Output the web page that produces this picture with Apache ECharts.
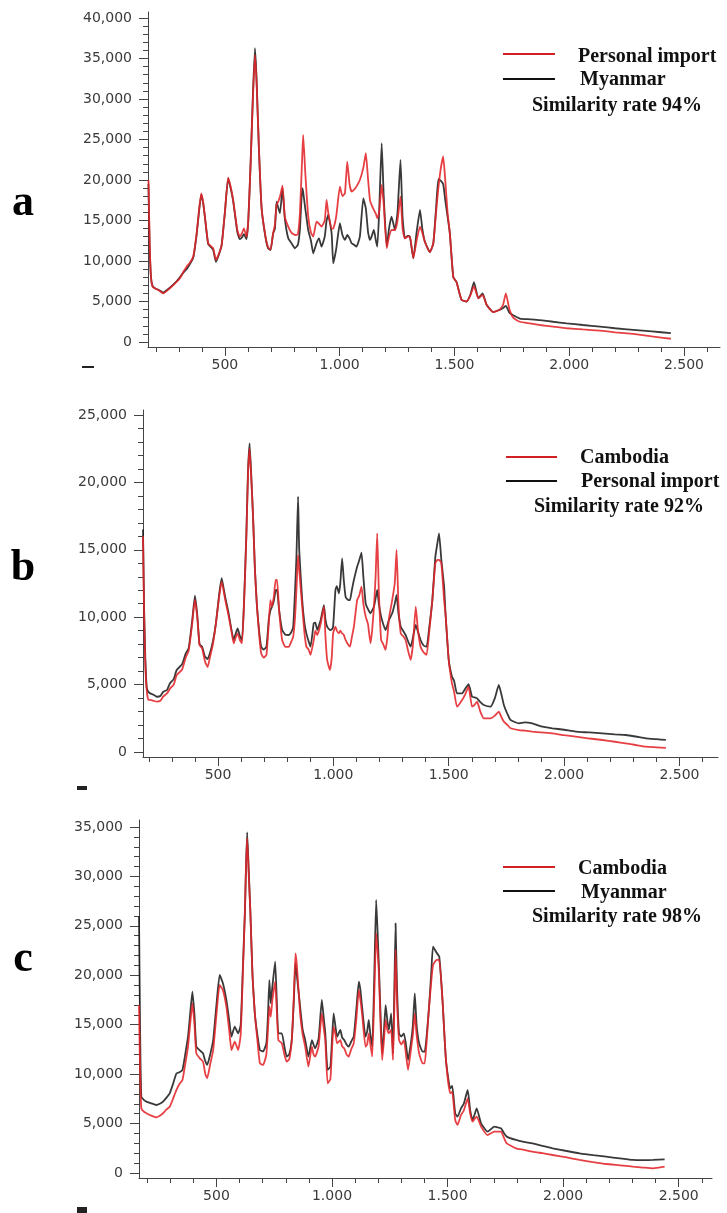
<!DOCTYPE html>
<html><head><meta charset="utf-8">
<script src="https://cdn.jsdelivr.net/npm/echarts@6/dist/echarts.min.js"></script>
<style>html,body{margin:0;padding:0;background:#fff}#c{width:727px;height:1213px}</style>
</head><body><div id="c"></div>
<script>
// ---------- Panel a : Personal import (red) vs Myanmar (black) ----------
const xA = [
167,172,178,185,197,210,231,260,285,304,
320,333,345,362,377,388,397,405,413,427,
440,449,461,474,486,500,514,525,536,554,
565,574,583,594,602,612,622,631,638,648,
660,677,688,699,710,718,725,732,740,751,
761,776,790,805,818,827,837,841,850,863,
875,885,899,910,921,935,943,950,965,972,
985,1001,1012,1023,1033,1043,1052,1063,1073,1088,
1103,1114,1124,1132,1139,1149,1158,1164,1172,1183,
1192,1205,1215,1226,1241,1252,1265,1274,1284,1296,
1306,1321,1335,1350,1360,1371,1393,1408,1420,1430,
1441,1451,1460,1470,1480,1495,1509,1531,1553,1570,
1585,1604,1613,1623,1640,1669,1698,1712,1724,1740,
1756,1785,1830,1872,1930,1989,2060,2134,2200,2279,
2360,2443];
const personalA = [
20000,12500,8000,6830,6600,6420,6010,6630,7300,7870,
8700,9300,9700,10530,13420,16500,18360,17300,15480,12190,
11800,11570,10130,10900,11980,16000,20300,19200,17540,13830,
13010,13400,14040,13010,15000,22000,30000,35440,32000,24000,
16500,13000,11700,11400,13420,14500,16920,17300,17950,19300,
15480,14240,13500,13210,13300,16000,23000,25560,21000,15480,
13500,13010,14860,14600,14240,15000,17540,16000,14000,14000,
15500,19180,18000,18360,22270,19500,18560,18800,19180,20000,
21500,23300,20000,17500,16920,16300,15800,15270,16000,19400,
17000,11570,13000,13830,13830,15000,17950,14000,12800,13000,
13010,10330,12500,14240,13500,12400,11100,12190,16000,19000,
21500,22900,20000,16000,13420,8000,7400,5200,5000,5800,
6900,5400,5600,5800,4600,3700,4000,4600,6000,4000,
3000,2500,2300,2100,1900,1700,1550,1400,1200,1000,
700,400];
const myanmarA = [
19500,12000,8000,6900,6600,6450,6100,6700,7350,8000,
8600,9000,9500,10400,13300,16300,18200,17200,15400,12100,
11700,11400,9900,10800,12000,16000,20200,19000,17400,13600,
12700,12900,13300,12700,15000,22000,30500,36270,32500,24000,
16500,12900,11600,11360,13400,14000,17330,16600,15890,19000,
15270,12800,12200,11570,12000,14000,18980,18500,16500,13830,
12500,10950,12190,12800,11770,13000,15000,15680,13420,9720,
11500,14660,13200,12600,13210,12800,12190,12000,11770,13000,
17740,16500,13500,12600,13000,13830,12500,11770,16000,24540,
18000,11770,14000,15480,13830,16000,22480,15500,12800,13100,
13010,10330,13500,16300,14000,12400,11100,12190,16500,20100,
19900,19500,17500,15500,13420,8000,7400,5200,5000,5900,
7400,5400,5700,6000,4600,3700,4000,4200,4450,3600,
3300,2900,2800,2700,2500,2300,2100,1900,1700,1500,
1300,1100];

// ---------- Panel b : Cambodia (red) vs Personal import (black) ----------
const xB = [
175,180,185,191,198,206,220,235,250,263,
279,292,308,321,344,360,373,388,400,410,
420,431,444,455,465,478,491,505,516,530,
546,558,568,577,585,595,604,613,623,630,
637,645,652,660,669,678,687,698,710,720,
727,734,742,750,756,765,778,792,807,818,
826,834,840,847,852,865,875,883,893,901,
915,922,930,945,959,966,973,985,993,999,
1009,1015,1024,1030,1038,1045,1053,1063,1072,1080,
1089,1103,1112,1122,1130,1140,1150,1161,1168,1176,
1183,1190,1197,1207,1216,1226,1234,1241,1255,1266,
1274,1282,1292,1302,1313,1324,1335,1345,1357,1367,
1378,1391,1404,1416,1429,1442,1451,1458,1468,1480,
1486,1500,1514,1523,1536,1558,1572,1586,1601,1612,
1623,1637,1652,1681,1700,1717,1728,1739,1755,1768,
1804,1830,1862,1900,1949,2000,2050,2110,2166,2220,
2267,2310,2354,2400,2441];
const cambodiaB = [
16000,10000,6500,4600,3860,3860,3800,3730,3800,4120,
4350,4700,5000,5710,6100,7000,7500,9500,11300,10000,
7930,7700,6700,6300,7000,8000,9540,11500,12640,11400,
10100,9000,8060,8500,8800,8300,8060,11000,16000,20500,
22530,20000,17460,13500,10780,8800,7320,7000,7200,9500,
11270,10800,11500,12760,12760,10500,8310,7800,7810,8200,
8560,10000,12020,14620,13500,10780,8800,7810,7600,7200,
8310,9000,8680,9500,10780,8500,6830,6080,7000,8800,
9300,9000,8800,9000,8800,8700,8310,8000,7810,8500,
9300,11270,11600,12270,11000,10040,9500,8060,9000,10780,
13000,16220,12000,8310,8000,7570,8500,9920,11270,12500,
14990,11000,8800,8600,8310,7500,6830,8000,10780,9000,
7810,7400,7200,9000,11270,14000,14250,14250,14000,11270,
10290,6830,5090,4500,3360,3860,4300,4850,3360,3500,
3730,3000,2500,2500,2700,2990,2600,2250,2000,1760,
1630,1580,1510,1450,1380,1250,1140,1000,890,760,
640,520,400,350,300];
const personalB = [
16500,10500,7000,4800,4470,4350,4250,4100,4150,4470,
4600,5100,5400,6080,6500,7300,7700,9700,11600,10200,
8000,7810,7070,6900,7320,8200,9540,11700,12900,11600,
10290,9100,8310,8800,9170,8600,8310,11200,16220,20800,
22900,20200,17460,13600,10780,9000,7810,7600,7810,9800,
10500,10780,11200,12000,12020,10500,9050,8700,8680,8900,
9300,12000,14490,18940,15000,11270,9500,8800,8200,7810,
9550,9600,9050,9800,10900,9800,9300,9050,9100,9300,
12020,12300,11770,12500,14370,12800,11520,11300,11270,12000,
12760,13750,14200,14790,13000,11030,10600,10290,10500,10780,
11400,12020,11000,10040,9500,9050,9400,9790,10290,11000,
11650,10300,9300,9000,8680,8200,7810,8500,9420,8900,
8310,7900,7810,9300,11270,14490,15500,16220,14250,12270,
10290,6830,5590,5300,4350,4350,4700,5030,4100,4050,
3980,3700,3490,3360,4000,4970,4300,3490,2800,2370,
2130,2200,2130,1900,1760,1650,1510,1450,1380,1300,
1260,1150,1010,950,900];

// ---------- Panel c : Cambodia (red) vs Myanmar (black) ----------
const xC = [
165,170,175,186,197,218,240,255,269,283,
298,312,327,340,353,365,377,386,396,405,
413,428,442,452,460,473,486,500,514,528,
543,555,565,579,594,605,614,623,628,633,
640,647,656,666,677,688,702,716,723,729,
735,742,754,761,768,783,794,804,815,826,
835,842,848,862,873,884,898,913,920,927,
942,956,965,971,981,993,1000,1007,1015,1022,
1036,1044,1053,1063,1072,1083,1094,1105,1116,1123,
1130,1145,1152,1159,1166,1174,1183,1191,1197,1203,
1210,1217,1225,1232,1239,1246,1256,1264,1270,1275,
1281,1290,1300,1311,1320,1329,1343,1350,1358,1366,
1377,1392,1401,1410,1420,1430,1437,1452,1464,1478,
1493,1511,1520,1533,1543,1558,1570,1587,1598,1608,
1618,1626,1645,1673,1702,1731,1745,1756,1796,1830,
1868,1910,1955,2010,2071,2130,2186,2245,2302,2345,
2389,2439];
const cambodiaC = [
17000,10000,6540,6200,6040,5800,5630,5800,6040,6400,
6710,7500,8400,9000,9410,11000,12780,15000,17160,15000,
12100,11600,11260,10000,9580,11000,12440,16000,19020,18500,
16830,14500,12440,13290,12440,14000,20000,26270,31000,33860,
30000,26270,20000,16150,13500,11090,10930,12000,14500,16830,
15800,17500,19360,16500,13450,13120,12000,11260,11500,13450,
18000,22220,21000,16150,14000,12780,10760,12780,12000,11770,
12800,16150,14500,13450,9070,9500,12500,14800,14000,13120,
13450,12800,12610,12000,11770,12500,13120,15500,18510,17500,
16150,12780,13000,14130,13000,11770,18000,24250,22500,20200,
15000,11430,13500,15480,14500,14130,14470,11430,17000,22560,
17500,13450,13000,13450,12000,10420,12780,14000,16150,14000,
12100,11090,11090,13500,16830,19500,21040,21550,21550,17500,
11430,8060,8200,5360,4860,5870,6300,7550,6000,5190,
5500,5700,4690,3840,4180,4180,3500,3000,2500,2350,
2160,2000,1820,1600,1320,1100,910,780,640,550,
470,640];
const myanmarC = [
26000,14000,7720,7400,7220,7050,6880,7000,7220,7600,
8060,9000,10080,10200,10420,12000,13790,16000,18340,16000,
12780,12400,12100,11300,10930,12000,13450,17000,20030,19200,
17500,15500,13790,14800,14130,15000,20500,26270,31000,34460,
30500,26270,20000,16150,14000,12440,12300,13120,16000,19520,
17160,18850,21380,17500,14130,14130,12800,11770,12000,13450,
17500,21210,20000,16830,14500,13450,11770,13450,13000,12610,
13600,17500,15500,14130,10430,10760,13500,16150,14800,13790,
14470,13700,13450,13000,12780,13300,13790,16500,19360,18500,
16830,13790,14300,15480,14000,12780,20000,27620,24500,20870,
16000,12100,14500,16990,15500,14470,16150,12100,19000,25260,
19000,14130,13800,14130,13000,11430,13450,15000,18170,15000,
13120,12270,12270,14000,16830,20500,22900,22300,21880,17500,
11430,8570,8800,6040,5700,6540,7000,8400,6300,5360,
6000,6540,5020,4180,4690,4520,4000,3680,3340,3150,
3000,2750,2500,2250,1990,1800,1650,1480,1320,1300,
1320,1380];

// ---------- tick labels ----------
const xTickLabels = [500,1000,1500,2000,2500];
const xMinorTicks = [200,300,400,500,600,700,800,900,1000,1100,1200,1300,1400,1500,1600,1700,1800,1900,2000,2100,2200,2300,2400,2500,2600];
const yTicksA = [0,5000,10000,15000,20000,25000,30000,35000,40000];
const yTicksB = [0,5000,10000,15000,20000,25000];
const yTicksC = [0,5000,10000,15000,20000,25000,30000,35000];
const legendA = ['Personal import','Myanmar','Similarity rate 94%'];
const legendB = ['Cambodia','Personal import','Similarity rate 92%'];
const legendC = ['Cambodia','Myanmar','Similarity rate 98%'];

const RED = '#e2262a', BLACK = '#1e1e1e', AX = '#444', LBL = '#3a3a3a';
const fmtY = v => String(v).replace(/\B(?=(\d{3})+(?!\d))/g, ',');
const fmtX = v => String(v).replace(/\B(?=(\d{3})+(?!\d))/g, '.');
const minorOf = (max) => { const a=[]; for (let v=0; v<=max; v+=1000) a.push(v); return a; };

const panels = [
  {x:xA, red:personalA, black:myanmarA, leg:legendA, yTicks:yTicksA, letter:'a',
   grid:{left:148, top:12, width:572, height:335}, xMin:165, xMax:2657, yMin:-617, yMax:40740,
   letterPos:[23,204], legX:[503,555], legTextX:[578,580,532], legY:[54,79], legTextY:[57,80,106]},
  {x:xB, red:cambodiaB, black:personalB, leg:legendB, yTicks:yTicksB, letter:'b',
   grid:{left:143, top:410, width:575, height:347}, xMin:175, xMax:2667, yMin:-371, yMax:25371,
   letterPos:[23,569], legX:[506,557], legTextX:[580,581,534], legY:[457,481], legTextY:[458,482,507]},
  {x:xC, red:cambodiaC, black:myanmarC, leg:legendC, yTicks:yTicksC, letter:'c',
   grid:{left:139, top:820, width:573, height:358}, xMin:165, xMax:2644, yMin:-506, yMax:35708,
   letterPos:[23,960], legX:[503,555], legTextX:[578,581,532], legY:[867,891], legTextY:[869,893,917]}
];

const option = {animation:false, backgroundColor:'#fff', grid:[], xAxis:[], yAxis:[], series:[], graphic:[]};
const lblStyle = {fontSize:14, color:LBL, fontFamily:'"DejaVu Sans", Verdana, sans-serif'};
const serif = '"Liberation Serif", "DejaVu Serif", serif';

panels.forEach((p, i) => {
  option.grid.push(Object.assign({containLabel:false}, p.grid));
  option.xAxis.push({type:'value', gridIndex:i, position:'bottom', min:p.xMin, max:p.xMax,
    axisLine:{show:true, onZero:false, lineStyle:{color:AX, width:1}},
    axisTick:{show:true, customValues:xTickLabels, length:9, lineStyle:{color:AX, width:1}},
    axisLabel:Object.assign({show:true, customValues:xTickLabels, margin:11, formatter:fmtX}, lblStyle),
    splitLine:{show:false}});
  option.xAxis.push({type:'value', gridIndex:i, position:'bottom', min:p.xMin, max:p.xMax,
    axisLine:{show:false, onZero:false},
    axisTick:{show:true, customValues:xMinorTicks, length:5, lineStyle:{color:AX, width:1}},
    axisLabel:{show:false}, splitLine:{show:false}});
  option.yAxis.push({type:'value', gridIndex:i, position:'left', min:p.yMin, max:p.yMax,
    axisLine:{show:true, onZero:false, lineStyle:{color:AX, width:1}},
    axisTick:{show:true, customValues:p.yTicks, length:9, lineStyle:{color:AX, width:1}},
    axisLabel:Object.assign({show:true, customValues:p.yTicks, margin:16, formatter:fmtY}, lblStyle),
    splitLine:{show:false}});
  option.yAxis.push({type:'value', gridIndex:i, position:'left', min:p.yMin, max:p.yMax,
    axisLine:{show:false, onZero:false},
    axisTick:{show:true, customValues:minorOf(p.yTicks[p.yTicks.length-1]), length:5, lineStyle:{color:AX, width:1}},
    axisLabel:{show:false}, splitLine:{show:false}});

  const n = Math.min(p.x.length, p.red.length, p.black.length);
  const blackData = [], redData = [];
  for (let k = 0; k < n; k++) { blackData.push([p.x[k], p.black[k]]); redData.push([p.x[k], p.red[k]]); }
  option.series.push({type:'line', name:p.leg[1], xAxisIndex:2*i, yAxisIndex:2*i, data:blackData,
    showSymbol:false, symbol:'none', smooth:0.15, lineStyle:{color:BLACK, width:1.8, opacity:0.88}, z:2});
  option.series.push({type:'line', name:p.leg[0], xAxisIndex:2*i, yAxisIndex:2*i, data:redData,
    showSymbol:false, symbol:'none', smooth:0.15, lineStyle:{color:RED, width:1.8, opacity:0.88}, z:3});

  option.graphic.push({type:'text', x:p.letterPos[0], y:p.letterPos[1],
    style:{text:p.letter, font:'bold 44px ' + serif, fill:'#000', align:'center', verticalAlign:'middle', textAlign:'center', textVerticalAlign:'middle'}});
  option.graphic.push({type:'line', shape:{x1:p.legX[0], y1:p.legY[0], x2:p.legX[1], y2:p.legY[0]}, style:{stroke:'#d21f22', lineWidth:2}});
  option.graphic.push({type:'line', shape:{x1:p.legX[0], y1:p.legY[1], x2:p.legX[1], y2:p.legY[1]}, style:{stroke:'#111', lineWidth:2}});
  for (let k = 0; k < 3; k++) {
    option.graphic.push({type:'text', x:p.legTextX[k], y:p.legTextY[k],
      style:{text:p.leg[k], font:'bold 20px ' + serif, fill:'#111', verticalAlign:'middle', textVerticalAlign:'middle'}});
  }
});

option.graphic.push({type:'rect', shape:{x:82, y:366, width:12, height:2}, style:{fill:'#222'}});
option.graphic.push({type:'rect', shape:{x:77, y:786, width:10, height:4}, style:{fill:'#222'}});
option.graphic.push({type:'rect', shape:{x:77, y:1207, width:10, height:6}, style:{fill:'#222'}});

const chart = echarts.init(document.getElementById('c'), null, {renderer:'canvas'});
chart.setOption(option);
</script>
</body></html>
